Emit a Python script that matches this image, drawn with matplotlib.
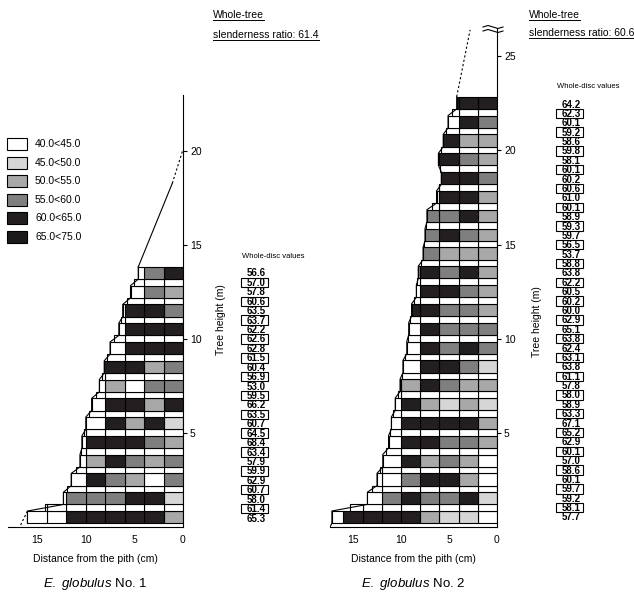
import matplotlib
matplotlib.use('Agg')
import matplotlib.pyplot as plt
from matplotlib.patches import Rectangle

plt.rcParams['font.family'] = ['Liberation Sans', 'DejaVu Sans']
plt.rcParams['mathtext.fontset'] = 'custom'
plt.rcParams['mathtext.rm'] = 'Liberation Sans'
plt.rcParams['mathtext.it'] = 'Liberation Sans:italic'

class_names = ['40.0<45.0', '45.0<50.0', '50.0<55.0', '55.0<60.0', '60.0<65.0', '65.0<75.0']
class_colors = ['#ffffff', '#d6d6d6', '#a8a8a8', '#7f7f7f', '#231f20', '#1c1a1a']

# discs from the base upwards, cell classes from the pith outwards (2 cm segments)
tree1_radius = [16.0, 12.3, 11.5, 10.6, 10.4, 10.0, 9.4, 8.6, 8.1, 7.5, 6.6, 6.2, 5.4, 4.6]
tree1_cells = [
    [2, 4, 4, 4, 4, 4, 0, 0],
    [1, 4, 4, 3, 3, 3, 0],
    [3, 0, 2, 3, 4, 0],
    [3, 2, 3, 4, 2, 0],
    [2, 3, 4, 4, 4, 0],
    [1, 4, 2, 4, 0],
    [4, 2, 4, 4, 0],
    [3, 3, 0, 2, 0],
    [3, 2, 4, 4],
    [4, 4, 4, 0],
    [4, 4, 4, 0],
    [3, 4, 4, 0],
    [2, 3, 0],
    [4, 3, 0],
]

tree2_radius = [17.2, 13.5, 12.5, 11.9, 11.3, 11.0, 10.6, 10.1, 9.8, 9.4, 9.2, 8.9,
                8.4, 8.2, 7.7, 7.5, 7.3, 6.3, 5.8, 6.1, 5.6, 5.1, 4.2]
tree2_cells = [
    [0, 1, 1, 2, 4, 4, 4, 4, 0],
    [1, 4, 3, 3, 4, 3, 0],
    [0, 2, 4, 4, 3, 0, 0],
    [0, 2, 3, 2, 4, 0],
    [2, 3, 3, 4, 4, 0],
    [2, 4, 4, 4, 4, 0],
    [1, 2, 1, 2, 4, 0],
    [2, 2, 3, 4, 2, 0],
    [1, 3, 4, 4, 0],
    [3, 4, 3, 4, 0],
    [3, 3, 3, 4, 0],
    [2, 3, 3, 4, 4],
    [2, 3, 4, 4, 0],
    [2, 4, 3, 4, 3],
    [2, 2, 2, 3],
    [2, 3, 4, 3],
    [2, 4, 3, 3],
    [2, 4, 4, 0],
    [3, 4, 4],
    [2, 3, 4, 4],
    [2, 2, 4],
    [3, 4, 0],
    [4, 4, 4],
]

# whole-disc values, listed from the top of the tree down
tree1_disc_values = [56.6, 57.0, 57.8, 60.6, 63.5, 63.7, 62.2, 62.6, 62.8, 61.5, 60.4, 56.9, 53.0, 59.5,
                     66.2, 63.5, 60.7, 64.5, 68.4, 63.4, 57.9, 59.9, 62.9, 60.7, 58.0, 61.4, 65.3]
tree2_disc_values = [64.2, 62.3, 60.1, 59.2, 58.6, 59.8, 58.1, 60.1, 60.2, 60.6, 61.0, 60.1, 58.9, 59.3,
                     59.7, 56.5, 53.7, 58.8, 63.8, 62.2, 60.5, 60.2, 60.0, 62.9, 65.1, 63.8, 62.4, 63.1,
                     63.8, 61.1, 57.8, 58.0, 58.9, 63.3, 67.1, 65.2, 62.9, 60.1, 57.0, 58.6, 60.1,
                     59.7, 59.2, 58.1, 57.7]

tree1_ratio = 61.4
tree2_ratio = 60.6
tree1_top = 20.1
tree2_top = 26.4

W, H = 634, 597
fig = plt.figure(figsize=(W / 100, H / 100), dpi=100)


def px_axes(left, top, right, bottom):
    return fig.add_axes([left / W, 1 - bottom / H, (right - left) / W, (bottom - top) / H])


def draw_tree(ax, radius, cells):
    lw = 0.8
    n = len(radius)
    profile_x, profile_y = [], []
    for k in range(n):
        y0, y1 = k + 0.2, k + 0.85
        r = radius[k]
        row = cells[k]
        for i, c in enumerate(row):
            x0 = 2 * i
            w = r - x0 if i == len(row) - 1 else min(2, r - x0)
            ax.add_patch(Rectangle((x0, y0), w, y1 - y0, facecolor=class_colors[c],
                                   edgecolor='black', lw=lw))
        if k < n - 1:
            rt = (r + radius[k + 1]) / 2
            x0 = 0
            while x0 < rt - 1e-6:
                w = min(2, rt - x0)
                ax.add_patch(Rectangle((x0, y1), w, 0.35, facecolor='white',
                                       edgecolor='black', lw=lw))
                x0 += 2
        profile_x += [r, r]
        profile_y += [y0, y1]
    ax.plot(profile_x, profile_y, color='black', lw=lw)


def setup(ax, xmax, ymax, yticks):
    ax.set_xlim(xmax, 0)
    ax.set_ylim(0, ymax)
    ax.spines['left'].set_visible(False)
    ax.spines['top'].set_visible(False)
    ax.spines['right'].set_linewidth(0.8)
    ax.spines['bottom'].set_linewidth(0.8)
    ax.yaxis.tick_right()
    ax.set_yticks(yticks)
    ax.set_xticks([15, 10, 5, 0])
    ax.tick_params(axis='y', direction='out', length=3, width=0.8, pad=2, labelsize=7.5)
    ax.tick_params(axis='x', length=0, pad=6, labelsize=7.5)
    ax.set_xlabel('Distance from the pith (cm)', fontsize=7.5, labelpad=6)
    ax.patch.set_alpha(0)


ax1 = px_axes(8, 95, 183, 527)
setup(ax1, 18.0, 23.0, [5, 10, 15, 20])
draw_tree(ax1, tree1_radius, tree1_cells)
top1 = len(tree1_radius) - 1 + 0.85
ax1.plot([tree1_radius[-1], 1.1], [top1, 18.3], color='black', lw=0.8)
ax1.plot([1.1, 0], [18.3, tree1_top], color='black', lw=0.8, ls=(0, (2, 2)))
ax1.plot([tree1_radius[0], 16.8], [0.85, 0], color='black', lw=0.8, ls=(0, (2, 2)))

ax2 = px_axes(330, 28, 497, 527)
setup(ax2, 17.4, 26.5, [5, 10, 15, 20, 25])
draw_tree(ax2, tree2_radius, tree2_cells)
top2 = len(tree2_radius) - 1 + 0.85
ax2.plot([tree2_radius[-1], 2.8], [top2, tree2_top], color='black', lw=0.8, ls=(0, (2, 2)))
ax2.plot([tree2_radius[0], 17.4], [0.2, 0], color='black', lw=0.8)

# overlay in pixel coordinates for the annotations
ov = fig.add_axes([0, 0, 1, 1])
ov.set_xlim(0, W)
ov.set_ylim(H, 0)
ov.axis('off')

# break mark at the top of the second height axis
for yb in (27, 31):
    ov.plot([483, 488, 493, 498, 503], [yb, yb - 1.5, yb, yb + 1.5, yb], color='black', lw=0.8)

# legend
for i, (name, col) in enumerate(zip(class_names, class_colors)):
    yc = 144 + i * 18.6
    ov.add_patch(Rectangle((7, yc - 6), 20, 12, facecolor=col, edgecolor='black', lw=0.8))
    ov.text(35, yc, name, fontsize=7.5, va='center', ha='left')


def disc_column(values, xc, y_top, y_bot, head_x, head_y):
    step = (y_bot - y_top) / (len(values) - 1)
    ov.text(head_x, head_y, 'Whole-disc values', fontsize=5.5, ha='left', va='center')
    for i, v in enumerate(values):
        y = y_top + i * step
        ov.text(xc, y + 0.5, f'{v:.1f}', ha='center', va='center', fontsize=7, fontweight='bold')
        if i % 2 == 1:
            ov.add_patch(Rectangle((xc - 15, y - step / 2), 27, step, fill=False, lw=0.8))


disc_column(tree1_disc_values, 256, 273, 518, 242, 257)
disc_column(tree2_disc_values, 571, 104, 517, 557, 86)

ov.text(221, 320, 'Tree height (m)', rotation=90, fontsize=7.5, ha='center', va='center')
ov.text(537, 322, 'Tree height (m)', rotation=90, fontsize=7.5, ha='center', va='center')

titles = []
titles.append(ov.text(213, 18, 'Whole-tree', fontsize=7.5, ha='left', va='baseline'))
titles.append(ov.text(213, 38, f'slenderness ratio: {tree1_ratio}', fontsize=7.5, ha='left', va='baseline'))
titles.append(ov.text(529, 18, 'Whole-tree', fontsize=7.5, ha='left', va='baseline'))
titles.append(ov.text(529, 36, f'slenderness ratio: {tree2_ratio}', fontsize=7.5, ha='left', va='baseline'))

ov.text(95, 584, r'$\mathit{E.\ globulus}$ No. 1', fontsize=9.5, ha='center', va='center')
ov.text(413, 584, r'$\mathit{E.\ globulus}$ No. 2', fontsize=9.5, ha='center', va='center')

fig.canvas.draw()
for t in titles:
    bb = t.get_window_extent()
    x0, y = t.get_position()
    ov.plot([x0, x0 + bb.width], [y + 2, y + 2], color='black', lw=0.7)

fig.savefig('out.png', dpi=100)
